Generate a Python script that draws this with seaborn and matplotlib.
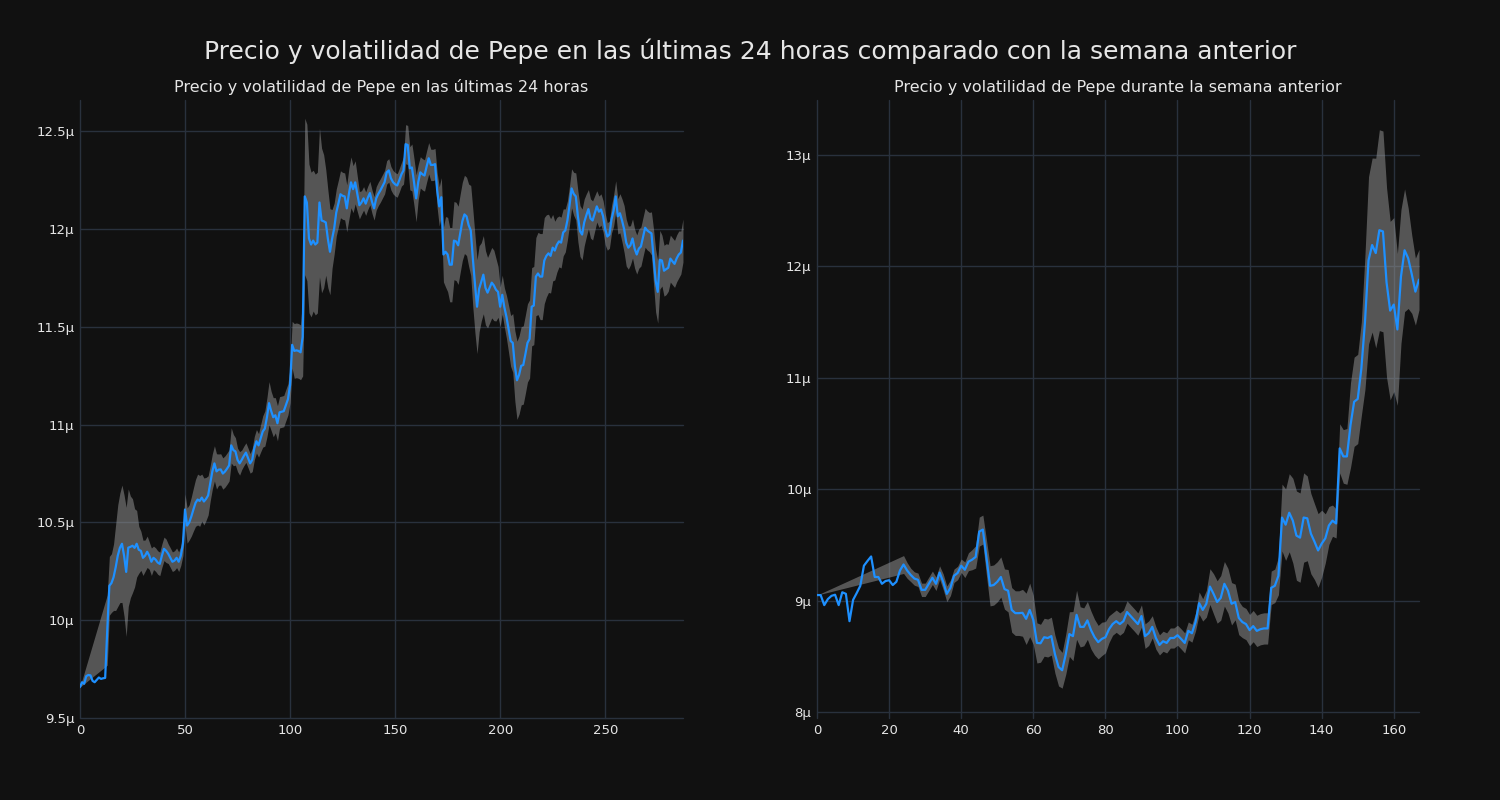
import numpy as np
import matplotlib
matplotlib.use("Agg")
import matplotlib.pyplot as plt
import seaborn as sns
from matplotlib.ticker import FuncFormatter

nan = np.nan

# Precio de Pepe (en millonesimas de USD), ultimas 24 horas, cada 5 minutos
price_24h = [
    9.658, 9.683, 9.675, 9.714, 9.72, 9.718, 9.69, 9.683, 9.695, 9.707,
    9.70, 9.703, 9.705, 9.95, 10.176, 10.19, 10.22, 10.27, 10.33, 10.37,
    10.391, 10.33, 10.247, 10.371, 10.375, 10.381, 10.37, 10.391, 10.36, 10.355,
    10.319, 10.33, 10.35, 10.33, 10.299, 10.319, 10.31, 10.295, 10.288, 10.33,
    10.365, 10.355, 10.34, 10.32, 10.299, 10.305, 10.319, 10.299, 10.33, 10.39,
    10.566, 10.484, 10.50, 10.53, 10.566, 10.60, 10.617, 10.61, 10.627, 10.607,
    10.62, 10.638, 10.70, 10.76, 10.802, 10.761, 10.77, 10.771, 10.75, 10.76,
    10.775, 10.792, 10.894, 10.87, 10.863, 10.82, 10.802, 10.82, 10.84, 10.857,
    10.83, 10.802, 10.82, 10.88, 10.915, 10.894, 10.93, 10.965, 10.98, 11.038,
    11.11, 11.07, 11.038, 11.048, 11.007, 11.063, 11.066, 11.069, 11.10, 11.13,
    11.202, 11.408, 11.377, 11.38, 11.377, 11.37, 11.449, 12.167, 12.136, 11.952,
    11.921, 11.941, 11.921, 11.931, 12.136, 12.044, 12.04, 12.034, 11.95, 11.884,
    11.95, 12.003, 12.085, 12.13, 12.178, 12.17, 12.167, 12.106, 12.18, 12.239,
    12.204, 12.239, 12.18, 12.122, 12.136, 12.157, 12.13, 12.16, 12.184, 12.14,
    12.106, 12.157, 12.18, 12.198, 12.219, 12.24, 12.29, 12.30, 12.26, 12.24,
    12.229, 12.223, 12.25, 12.28, 12.30, 12.434, 12.43, 12.311, 12.315, 12.24,
    12.157, 12.24, 12.29, 12.28, 12.274, 12.32, 12.362, 12.328, 12.328, 12.332,
    12.20, 12.116, 12.163, 11.87, 11.884, 11.87, 11.818, 11.818, 11.941, 11.937,
    11.917, 11.98, 12.04, 12.075, 12.065, 12.02, 11.993, 11.85, 11.72, 11.603,
    11.695, 11.73, 11.767, 11.70, 11.675, 11.70, 11.726, 11.712, 11.69, 11.679,
    11.603, 11.664, 11.60, 11.551, 11.49, 11.428, 11.418, 11.30, 11.227, 11.254,
    11.301, 11.305, 11.36, 11.418, 11.438, 11.603, 11.609, 11.757, 11.773, 11.757,
    11.757, 11.839, 11.863, 11.876, 11.863, 11.905, 11.89, 11.92, 11.937, 11.931,
    11.983, 11.993, 12.044, 12.12, 12.208, 12.18, 12.167, 12.065, 11.99, 11.972,
    12.034, 12.07, 12.102, 12.054, 12.044, 12.08, 12.116, 12.089, 12.10, 12.065,
    12.00, 11.962, 11.972, 12.05, 12.095, 12.167, 12.065, 12.081, 12.044, 12.00,
    11.931, 11.905, 11.917, 11.952, 11.90, 11.87, 11.90, 11.911, 11.96, 12.007,
    11.993, 11.985, 11.978, 11.859, 11.736, 11.679, 11.843, 11.839, 11.787, 11.795,
    11.802, 11.849, 11.835, 11.822, 11.85, 11.87, 11.88, 11.941,
]

# Volatilidad (desviacion) en las ultimas 24 horas
vol_24h = [
    0.0, nan, nan, nan, nan, nan, nan, nan, nan, nan,
    nan, nan, nan, 0.18, 0.15, 0.15, 0.17, 0.22, 0.26, 0.28,
    0.30, 0.31, 0.33, 0.30, 0.26, 0.24, 0.20, 0.17, 0.12, 0.10,
    0.09, 0.08, 0.08, 0.07, 0.07, 0.06, 0.06, 0.06, 0.06, 0.06,
    0.06, 0.06, 0.05, 0.05, 0.05, 0.05, 0.05, 0.05, 0.05, 0.06,
    0.08, 0.09, 0.09, 0.10, 0.11, 0.12, 0.13, 0.13, 0.12, 0.12,
    0.11, 0.10, 0.09, 0.09, 0.09, 0.09, 0.08, 0.08, 0.08, 0.08,
    0.08, 0.08, 0.09, 0.08, 0.07, 0.06, 0.06, 0.05, 0.05, 0.05,
    0.05, 0.05, 0.06, 0.06, 0.06, 0.06, 0.07, 0.08, 0.09, 0.10,
    0.11, 0.10, 0.10, 0.09, 0.09, 0.08, 0.08, 0.08, 0.08, 0.08,
    0.09, 0.12, 0.14, 0.14, 0.14, 0.14, 0.20, 0.40, 0.40, 0.38,
    0.37, 0.36, 0.36, 0.36, 0.38, 0.37, 0.34, 0.27, 0.25, 0.22,
    0.15, 0.13, 0.12, 0.12, 0.12, 0.12, 0.12, 0.12, 0.13, 0.13,
    0.12, 0.11, 0.09, 0.07, 0.06, 0.06, 0.06, 0.06, 0.06, 0.06,
    0.06, 0.06, 0.06, 0.06, 0.06, 0.06, 0.06, 0.06, 0.06, 0.06,
    0.06, 0.06, 0.06, 0.06, 0.07, 0.10, 0.10, 0.11, 0.12, 0.12,
    0.12, 0.09, 0.08, 0.08, 0.08, 0.08, 0.08, 0.08, 0.08, 0.08,
    0.09, 0.10, 0.10, 0.14, 0.18, 0.19, 0.19, 0.19, 0.20, 0.20,
    0.20, 0.20, 0.20, 0.20, 0.20, 0.21, 0.23, 0.25, 0.25, 0.24,
    0.22, 0.20, 0.20, 0.19, 0.18, 0.18, 0.18, 0.18, 0.16, 0.13,
    0.10, 0.10, 0.10, 0.11, 0.12, 0.13, 0.15, 0.18, 0.20, 0.20,
    0.20, 0.20, 0.20, 0.20, 0.20, 0.20, 0.20, 0.20, 0.21, 0.22,
    0.22, 0.22, 0.21, 0.20, 0.19, 0.17, 0.15, 0.14, 0.13, 0.13,
    0.12, 0.11, 0.10, 0.10, 0.10, 0.11, 0.12, 0.13, 0.13, 0.13,
    0.12, 0.11, 0.10, 0.10, 0.10, 0.09, 0.08, 0.08, 0.08, 0.08,
    0.08, 0.07, 0.07, 0.07, 0.08, 0.08, 0.09, 0.10, 0.11, 0.12,
    0.12, 0.11, 0.10, 0.10, 0.10, 0.10, 0.10, 0.10, 0.10, 0.10,
    0.10, 0.10, 0.11, 0.14, 0.16, 0.16, 0.15, 0.13, 0.13, 0.13,
    0.12, 0.12, 0.12, 0.12, 0.12, 0.12, 0.11, 0.11,
]

# Precio de Pepe durante la semana anterior, cada hora
price_week = [
    9.052, 9.052, 8.962, 9.016, 9.045, 9.055, 8.962, 9.077, 9.063, 8.818,
    9.009, 9.07, 9.135, 9.315, 9.358, 9.398, 9.214, 9.214, 9.153, 9.178,
    9.185, 9.142, 9.171, 9.272, 9.326, 9.272, 9.232, 9.20, 9.189, 9.099,
    9.099, 9.153, 9.207, 9.153, 9.254, 9.171, 9.063, 9.117, 9.225, 9.25,
    9.315, 9.279, 9.351, 9.369, 9.394, 9.621, 9.639, 9.387, 9.135, 9.142,
    9.171, 9.214, 9.106, 9.091, 8.919, 8.89, 8.89, 8.893, 8.839, 8.919,
    8.829, 8.623, 8.62, 8.674, 8.667, 8.684, 8.522, 8.407, 8.378, 8.522,
    8.702, 8.684, 8.875, 8.767, 8.767, 8.825, 8.738, 8.674, 8.63, 8.659,
    8.674, 8.746, 8.792, 8.818, 8.792, 8.818, 8.90, 8.864, 8.829, 8.792,
    8.864, 8.684, 8.71, 8.767, 8.667, 8.605, 8.638, 8.623, 8.667, 8.667,
    8.692, 8.659, 8.623, 8.731, 8.71, 8.81, 8.98, 8.919, 8.974, 9.128,
    9.063, 8.99, 9.027, 9.153, 9.091, 8.974, 8.99, 8.847, 8.81, 8.792,
    8.738, 8.774, 8.731, 8.746, 8.753, 8.753, 9.117, 9.135, 9.225, 9.747,
    9.683, 9.79, 9.719, 9.585, 9.567, 9.747, 9.74, 9.603, 9.531, 9.452,
    9.513, 9.56, 9.676, 9.719, 9.694, 10.367, 10.295, 10.295, 10.576, 10.785,
    10.81, 11.08, 11.494, 12.053, 12.19, 12.118, 12.323, 12.312, 11.854, 11.602,
    11.656, 11.433, 11.908, 12.143, 12.071, 11.927, 11.772, 11.88,
]

vol_week = [
    0.0, nan, nan, nan, nan, nan, nan, nan, nan, nan,
    nan, nan, nan, nan, nan, nan, nan, nan, nan, nan,
    nan, nan, nan, nan, 0.08, 0.07, 0.06, 0.06, 0.06, 0.06,
    0.06, 0.06, 0.06, 0.06, 0.06, 0.07, 0.07, 0.07, 0.06, 0.06,
    0.06, 0.07, 0.08, 0.09, 0.10, 0.13, 0.13, 0.16, 0.18, 0.18,
    0.18, 0.18, 0.18, 0.19, 0.20, 0.20, 0.20, 0.21, 0.23, 0.24,
    0.22, 0.18, 0.17, 0.17, 0.17, 0.17, 0.17, 0.17, 0.16, 0.18,
    0.20, 0.22, 0.22, 0.18, 0.17, 0.17, 0.17, 0.16, 0.15, 0.15,
    0.14, 0.12, 0.10, 0.10, 0.10, 0.10, 0.10, 0.10, 0.10, 0.10,
    0.10, 0.11, 0.11, 0.10, 0.10, 0.09, 0.09, 0.09, 0.09, 0.09,
    0.09, 0.09, 0.09, 0.08, 0.08, 0.08, 0.10, 0.10, 0.12, 0.16,
    0.18, 0.19, 0.20, 0.20, 0.20, 0.19, 0.16, 0.15, 0.14, 0.14,
    0.14, 0.14, 0.14, 0.14, 0.14, 0.14, 0.15, 0.15, 0.17, 0.30,
    0.32, 0.35, 0.38, 0.40, 0.40, 0.40, 0.38, 0.36, 0.34, 0.33,
    0.30, 0.22, 0.17, 0.14, 0.13, 0.22, 0.24, 0.25, 0.38, 0.40,
    0.40, 0.42, 0.60, 0.75, 0.78, 0.85, 0.90, 0.90, 0.85, 0.80,
    0.78, 0.68, 0.60, 0.55, 0.45, 0.35, 0.30, 0.27,
]

titles = [
    "Precio y volatilidad de Pepe en las últimas 24 horas",
    "Precio y volatilidad de Pepe durante la semana anterior",
]
suptitle = "Precio y volatilidad de Pepe en las últimas 24 horas comparado con la semana anterior"

bg = "#111111"
grid_col = "#29313d"
text_col = "#e6e6e6"

sns.set_theme(style="darkgrid", rc={
    "figure.facecolor": bg,
    "axes.facecolor": bg,
    "axes.edgecolor": bg,
    "grid.color": grid_col,
    "grid.linewidth": 1.0,
    "xtick.color": text_col,
    "ytick.color": text_col,
    "text.color": text_col,
    "axes.labelcolor": text_col,
})
plt.rcParams["font.family"] = ["DejaVu Sans"]

fig = plt.figure(figsize=(15, 8), dpi=100)
ax1 = fig.add_axes([0.0533, 0.1025, 0.4020, 0.7725])
ax2 = fig.add_axes([0.5447, 0.1025, 0.4013, 0.7725])

mu_fmt = FuncFormatter(lambda v, pos: f"{v:g}µ")


def draw(ax, price, vol, title, ylim, xticks):
    price = np.array(price, dtype=float)
    vol = np.array(vol, dtype=float)
    x = np.arange(len(price))
    ok = ~np.isnan(vol)
    ax.fill_between(x[ok], price[ok] - vol[ok], price[ok] + vol[ok],
                    color="#9a9a9a", alpha=0.5, linewidth=0)
    sns.lineplot(x=x, y=price, ax=ax, color="#1e90ff", linewidth=1.6)
    ax.set_xlim(0, len(price) - 1)
    ax.set_ylim(*ylim)
    ax.set_xticks(xticks)
    ax.yaxis.set_major_formatter(mu_fmt)
    ax.set_title(title, fontsize=11.5, color=text_col, pad=6)
    ax.set_xlabel("")
    ax.set_ylabel("")
    ax.tick_params(axis="both", length=0, labelsize=9.5, pad=4)
    for s in ax.spines.values():
        s.set_visible(False)
    for gl in ax.get_xgridlines() + ax.get_ygridlines():
        gl.set_clip_on(False)


draw(ax1, price_24h, vol_24h, titles[0], (9.5, 12.66), [0, 50, 100, 150, 200, 250])
ax1.set_yticks([9.5, 10, 10.5, 11, 11.5, 12, 12.5])
draw(ax2, price_week, vol_week, titles[1], (7.95, 13.49), [0, 20, 40, 60, 80, 100, 120, 140, 160])
ax2.set_yticks([8, 9, 10, 11, 12, 13])

fig.suptitle(suptitle, fontsize=18, color=text_col, y=0.952)

fig.savefig("out.png", dpi=100, facecolor=bg)
